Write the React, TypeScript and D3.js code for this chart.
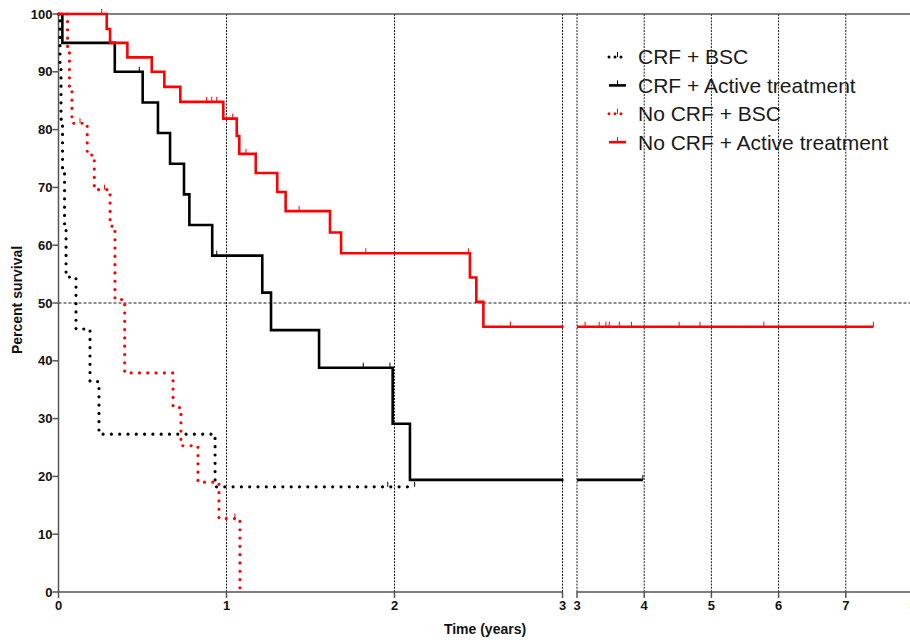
import React from "react";
import * as d3 from "d3";

// ---------- data ----------
const yTicks = [0, 10, 20, 30, 40, 50, 60, 70, 80, 90, 100];
const xTicksSeg1 = [0, 1, 2, 3];
const xTicksSeg2 = [3, 4, 5, 6, 7, 8];
const gridSeg1 = [1, 2, 3];
const gridSeg2 = [3, 4, 5, 6, 7];

const seriesNames = ["CRF + BSC", "CRF + Active treatment", "No CRF + BSC", "No CRF + Active treatment"];
const seriesColors = ["#000000", "#000000", "#ff0000", "#ff0000"];
const seriesDotted = [true, false, true, false];

const crfBscTimes = [0.009, 0.015, 0.024, 0.036, 0.045, 0.104, 0.1875, 0.241, 0.932];
const crfBscSurv = [90.9, 81.8, 72.7, 63.6, 54.5, 45.5, 36.4, 27.3, 18.2];
const crfBscEnd = 2.12;
const crfBscCensor = [1.96, 2.12];

const crfActTimes = [0.023, 0.335, 0.501, 0.592, 0.664, 0.747, 0.779, 0.915, 1.213, 1.265, 1.551, 1.989, 2.092];
const crfActSurv = [95, 90, 84.7, 79.4, 74.1, 68.8, 63.5, 58.2, 51.8, 45.3, 38.8, 29.1, 19.4];
const crfActEnd = 3.98;
const crfActCensor = [0.481, 0.942, 1.814, 1.973, 3.98];

const noCrfBscTimes = [0.054, 0.065, 0.08, 0.171, 0.213, 0.307, 0.336, 0.394, 0.682, 0.729, 0.83, 0.955, 1.08];
const noCrfBscSurv = [93.7, 87.4, 81.1, 75.6, 69.6, 63.3, 50.6, 37.9, 31.9, 25.3, 19.0, 12.7, 0];
const noCrfBscEnd = 1.08;
const noCrfBscCensor = [0.128, 0.274, 1.05];

const noCrfActTimes = [0.287, 0.307, 0.41, 0.555, 0.63, 0.725, 0.981, 1.061, 1.076, 1.174, 1.302, 1.352, 1.616, 1.682, 2.449, 2.487, 2.529];
const noCrfActSurv = [97.4, 95, 92.5, 90, 87.4, 84.8, 81.9, 78.9, 75.8, 72.5, 69.2, 65.9, 62.2, 58.6, 54.4, 50.2, 45.9];
const noCrfActEnd = 7.41;
const noCrfActCensor = [0.257, 0.882, 0.912, 0.942, 1.037, 1.116, 1.432, 1.829, 2.44, 2.69, 3.12, 3.33, 3.43, 3.48, 3.63, 3.81, 4.52, 4.83, 5.78, 7.41];

const allTimes = [crfBscTimes, crfActTimes, noCrfBscTimes, noCrfActTimes];
const allSurv = [crfBscSurv, crfActSurv, noCrfBscSurv, noCrfActSurv];
const allEnd = [crfBscEnd, crfActEnd, noCrfBscEnd, noCrfActEnd];
const allCensor = [crfBscCensor, crfActCensor, noCrfBscCensor, noCrfActCensor];

// ---------- layout ----------
const W = 910;
const H = 640;
const yTop = 14;
const yBottom = 592;
const seg1 = [58.5, 562.5];
const seg2 = [577, 913];

const y = d3.scaleLinear().domain([0, 100]).range([yBottom, yTop]);
const x1 = d3.scaleLinear().domain([0, 3]).range(seg1);
const x2 = d3.scaleLinear().domain([3, 8]).range(seg2);

function survAt(times: number[], surv: number[], t: number) {
  let s = 100;
  for (let i = 0; i < times.length; i++) {
    if (times[i] <= t) s = surv[i];
  }
  return s;
}

function stepPoints(times: number[], surv: number[], end: number): [number, number][] {
  const pts: [number, number][] = [[0, 100]];
  times.forEach((t, i) => pts.push([t, surv[i]]));
  pts.push([end, surv[surv.length - 1]]);
  return pts;
}

function seg2Points(times: number[], surv: number[], end: number): [number, number][] | null {
  if (end <= 3) return null;
  const pts: [number, number][] = [[3, survAt(times, surv, 3)]];
  times.forEach((t, i) => {
    if (t > 3) pts.push([t, surv[i]]);
  });
  pts.push([end, surv[surv.length - 1]]);
  return pts;
}

export default function App() {
  const line1 = d3
    .line<[number, number]>()
    .x((d) => x1(d[0]))
    .y((d) => y(d[1]))
    .curve(d3.curveStepAfter);
  const line2 = d3
    .line<[number, number]>()
    .x((d) => x2(d[0]))
    .y((d) => y(d[1]))
    .curve(d3.curveStepAfter);

  const font = "'Liberation Sans', Arial, Helvetica, sans-serif";
  const axisColor = "#555";

  const strokeProps = (i: number) =>
    seriesDotted[i]
      ? { strokeWidth: 3.2, strokeDasharray: "0 8.3", strokeLinecap: "round" as const }
      : { strokeWidth: 2.6, strokeLinecap: "butt" as const };

  return (
    <svg width={W} height={H} style={{ position: "absolute", left: 0, top: 0 }} fontFamily={font}>
      <defs>
        <clipPath id="clip1">
          <rect x={40} y={0} width={seg1[1] + 1 - 40} height={H} />
        </clipPath>
        <clipPath id="clip2">
          <rect x={seg2[0] - 1} y={0} width={W} height={H} />
        </clipPath>
      </defs>
      <rect x={0} y={0} width={W} height={H} fill="#fff" />

      {/* gridlines */}
      {gridSeg1.map((t) => (
        <line key={"g1" + t} x1={x1(t)} x2={x1(t)} y1={yTop} y2={yBottom} stroke="#000" strokeWidth={0.9} strokeDasharray="2 1.2" />
      ))}
      {gridSeg2.map((t) => (
        <line key={"g2" + t} x1={x2(t)} x2={x2(t)} y1={yTop} y2={yBottom} stroke="#000" strokeWidth={0.9} strokeDasharray="2 1.2" />
      ))}
      <line x1={seg1[0]} x2={W} y1={y(50)} y2={y(50)} stroke="#000" strokeWidth={0.9} strokeDasharray="3 2" />

      {/* frame / axes */}
      <line x1={seg1[0]} x2={W} y1={yTop} y2={yTop} stroke={axisColor} strokeWidth={1.5} />
      <line x1={seg1[0]} x2={seg1[0]} y1={yTop - 1} y2={yBottom} stroke={axisColor} strokeWidth={1.5} />
      <line x1={seg1[0]} x2={seg1[1]} y1={yBottom} y2={yBottom} stroke={axisColor} strokeWidth={1.5} />
      <line x1={seg2[0]} x2={seg2[1]} y1={yBottom} y2={yBottom} stroke={axisColor} strokeWidth={1.5} />

      {/* y ticks */}
      {yTicks.map((v) => (
        <g key={"yt" + v}>
          <line x1={seg1[0] - 6} x2={seg1[0]} y1={y(v)} y2={y(v)} stroke={axisColor} strokeWidth={1.5} />
          <text x={seg1[0] - 6} y={y(v)} dy="0.36em" textAnchor="end" fontSize={13} fontWeight="bold" fill="#111">
            {v}
          </text>
        </g>
      ))}
      {/* x ticks */}
      {xTicksSeg1.map((t) => (
        <g key={"xt1" + t}>
          <line x1={x1(t)} x2={x1(t)} y1={yBottom} y2={yBottom + 6} stroke={axisColor} strokeWidth={1.5} />
          <text x={x1(t)} y={yBottom + 18} textAnchor="middle" fontSize={13} fontWeight="bold" fill="#111">
            {t}
          </text>
        </g>
      ))}
      {xTicksSeg2.map((t) => (
        <g key={"xt2" + t}>
          <line x1={x2(t)} x2={x2(t)} y1={yBottom} y2={yBottom + 6} stroke={axisColor} strokeWidth={1.5} />
          <text x={x2(t)} y={yBottom + 18} textAnchor="middle" fontSize={13} fontWeight="bold" fill="#111">
            {t}
          </text>
        </g>
      ))}

      {/* axis titles */}
      <text x={485} y={634} textAnchor="middle" fontSize={14} fontWeight="bold" fill="#111">
        Time (years)
      </text>
      <text transform={`translate(22, 300) rotate(-90)`} textAnchor="middle" fontSize={14} fontWeight="bold" fill="#111">
        Percent survival
      </text>

      {/* survival curves */}
      {seriesNames.map((name, i) => {
        const p1 = stepPoints(allTimes[i], allSurv[i], allEnd[i]);
        const p2 = seg2Points(allTimes[i], allSurv[i], allEnd[i]);
        return (
          <g key={"s" + i}>
            <path d={line1(p1) || ""} fill="none" stroke={seriesColors[i]} clipPath="url(#clip1)" {...strokeProps(i)} />
            {p2 && <path d={line2(p2) || ""} fill="none" stroke={seriesColors[i]} clipPath="url(#clip2)" {...strokeProps(i)} />}
            {allCensor[i].map((c, k) => {
              const s = survAt(allTimes[i], allSurv[i], c);
              const cx = c <= 3 ? x1(c) : x2(c);
              return (
                <line key={"c" + k} x1={cx} x2={cx} y1={y(s)} y2={y(s) - 5} stroke={seriesColors[i]} strokeWidth={1} />
              );
            })}
          </g>
        );
      })}

      {/* legend */}
      {seriesNames.map((name, i) => {
        const ly = 57 + i * 28.4;
        return (
          <g key={"lg" + i}>
            <line x1={609} x2={626} y1={ly} y2={ly} stroke={seriesColors[i]} {...(seriesDotted[i] ? { strokeWidth: 3, strokeDasharray: "0 6", strokeLinecap: "round" as const } : { strokeWidth: 2.6 })} />
            <line x1={617.5} x2={617.5} y1={ly} y2={ly - 5} stroke={seriesColors[i]} strokeWidth={1} />
            <text x={638} y={ly} dy="0.35em" fontSize={21} fill="#1a1a1a">
              {name}
            </text>
          </g>
        );
      })}
    </svg>
  );
}
